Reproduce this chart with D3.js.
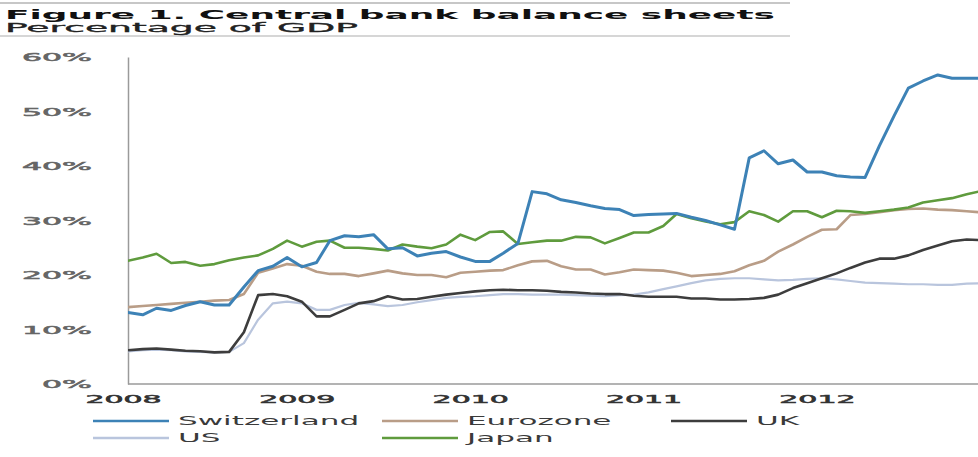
<!DOCTYPE html>
<html>
<head>
<meta charset="utf-8">
<script src="https://cdn.jsdelivr.net/npm/d3@7"></script>
<style>
  html, body { margin: 0; padding: 0; background: #fff; }
  svg { display: block; font-family: "DejaVu Sans", Verdana, sans-serif; }
</style>
</head>
<body>
<svg id="chart" width="978" height="457"></svg>
<script>
// Monthly observations, January 2008 to December 2012 (percent of GDP)
const startMonth = new Date(2008, 0, 1);
const seriesNames = ["Switzerland", "Eurozone", "UK", "US", "Japan"];
const switzerland = [13.1,12.7,13.9,13.5,14.4,15.1,14.5,14.5,17.8,20.8,21.6,23.2,21.5,22.3,26.3,27.2,27.0,27.4,24.8,25.0,23.5,24.0,24.3,23.3,22.5,22.5,24.0,25.8,35.3,34.9,33.8,33.3,32.7,32.2,32.0,30.9,31.1,31.2,31.3,30.6,30.0,29.2,28.4,41.5,42.8,40.4,41.1,38.9,38.9,38.2,38.0,37.9,43.7,49.2,54.3,55.6,56.7,56.1,56.1,56.1];
const eurozone = [14.1,14.3,14.5,14.7,14.9,15.1,15.3,15.4,16.5,20.4,21.2,22.0,21.7,20.6,20.2,20.2,19.8,20.3,20.8,20.3,20.0,20.0,19.6,20.4,20.6,20.8,20.9,21.8,22.5,22.6,21.6,21.0,21.0,20.1,20.5,21.0,20.9,20.8,20.4,19.8,20.0,20.2,20.7,21.8,22.6,24.3,25.6,27.0,28.3,28.4,31.0,31.2,31.5,31.9,32.1,32.2,32.0,31.9,31.7,31.5];
const uk = [6.2,6.4,6.5,6.3,6.1,6.0,5.8,5.9,9.5,16.3,16.5,16.1,15.1,12.4,12.4,13.6,14.8,15.2,16.1,15.5,15.6,16.0,16.4,16.7,17.0,17.2,17.3,17.2,17.2,17.1,16.9,16.8,16.6,16.5,16.5,16.2,16.0,16.0,16.0,15.7,15.7,15.5,15.5,15.6,15.8,16.4,17.6,18.5,19.4,20.3,21.3,22.3,23.0,23.0,23.6,24.6,25.4,26.2,26.5,26.4];
const us = [6.0,6.2,6.3,6.2,6.0,5.9,5.8,5.9,7.5,11.8,14.8,15.1,14.8,13.6,13.6,14.5,14.9,14.6,14.3,14.5,15.0,15.4,15.8,16.0,16.1,16.3,16.5,16.5,16.4,16.4,16.4,16.3,16.2,16.1,16.3,16.4,16.8,17.4,17.9,18.5,19.0,19.3,19.4,19.4,19.2,19.0,19.1,19.3,19.4,19.2,18.9,18.6,18.5,18.4,18.3,18.3,18.2,18.2,18.4,18.5];
const japan = [22.6,23.2,23.9,22.2,22.4,21.7,22.0,22.7,23.2,23.6,24.8,26.3,25.2,26.1,26.3,25.0,25.0,24.8,24.5,25.6,25.2,24.9,25.6,27.4,26.4,27.9,28.0,25.7,26.0,26.3,26.3,27.0,26.9,25.8,26.8,27.8,27.8,29.0,31.2,30.4,29.8,29.3,29.7,31.7,31.0,29.8,31.7,31.7,30.6,31.8,31.7,31.4,31.7,32.0,32.4,33.3,33.7,34.1,34.8,35.4];
const yTicks = [0, 10, 20, 30, 40, 50, 60];
const yearTicks = [2008, 2009, 2010, 2011, 2012];

const titleText = "Figure 1. Central bank balance sheets";
const subtitleText = "Percentage of GDP";

const svg = d3.select("#chart");
const W = 978, H = 457;
const plot = { left: 128, right: 981, top: 57, bottom: 384 };

const dateOf = i => d3.timeMonth.offset(startMonth, i);

const x = d3.scaleTime()
  .domain([startMonth, dateOf(switzerland.length - 1)])
  .range([plot.left, plot.right]);
const y = d3.scaleLinear().domain([0, 60]).range([plot.bottom, plot.top]);

// Widen text horizontally (the typeface is set very wide)
function widen(sel, factor) {
  sel.each(function () {
    const len = this.getComputedTextLength();
    d3.select(this).attr("textLength", len * factor).attr("lengthAdjust", "spacingAndGlyphs");
  });
}

// Header rules and titles
svg.append("line").attr("x1", 0).attr("x2", 790).attr("y1", 3).attr("y2", 3)
  .attr("stroke", "#b5b5b5").attr("stroke-width", 1.5);
svg.append("line").attr("x1", 0).attr("x2", 790).attr("y1", 36).attr("y2", 36)
  .attr("stroke", "#c8c8c8").attr("stroke-width", 1.5);

const title = svg.append("text").attr("x", 5).attr("y", 19)
  .attr("font-size", 12.5).attr("font-weight", "bold").attr("fill", "#111")
  .text(titleText);
widen(title, 770 / title.node().getComputedTextLength());

const subtitle = svg.append("text").attr("x", 5).attr("y", 31.5)
  .attr("font-size", 11.5).attr("fill", "#222")
  .attr("stroke", "#222").attr("stroke-width", 0.3)
  .text(subtitleText);
widen(subtitle, 353 / subtitle.node().getComputedTextLength());

// Y axis
const yAxis = svg.append("g").attr("transform", `translate(${plot.left},0)`)
  .call(d3.axisLeft(y).tickValues(yTicks).tickSize(0).tickPadding(36).tickFormat(d => d + "%"));
yAxis.select(".domain").attr("stroke", "#9a9a9a").attr("stroke-width", 1.5);
yAxis.selectAll("text")
  .attr("font-size", 10.5).attr("fill", "#666")
  .attr("stroke", "#666").attr("stroke-width", 0.5)
  .attr("font-family", "DejaVu Sans").attr("dy", "0.36em");
widen(yAxis.selectAll("text"), 3.0);

// X axis
const xAxis = svg.append("g").attr("transform", `translate(0,${plot.bottom})`)
  .call(d3.axisBottom(x).tickValues(yearTicks.map(yr => new Date(yr, 0, 1)))
    .tickSize(0).tickPadding(12).tickFormat(d3.timeFormat("%Y")));
xAxis.select(".domain").attr("d", `M${plot.left},0H${W}`)
  .attr("stroke", "#9a9a9a").attr("stroke-width", 1.5);
xAxis.selectAll("text")
  .attr("font-size", 10.5).attr("fill", "#333")
  .attr("stroke", "#333").attr("stroke-width", 0.5)
  .attr("font-family", "DejaVu Sans").attr("dx", -5);
widen(xAxis.selectAll("text"), 2.85);

// Lines
svg.append("clipPath").attr("id", "plotClip")
  .append("rect").attr("x", plot.left).attr("y", 0).attr("width", W - plot.left).attr("height", plot.bottom);

const series = [
  { name: "US", values: us, color: "#b9c5dd", width: 2.2 },
  { name: "UK", values: uk, color: "#3d3d3d", width: 2.6 },
  { name: "Eurozone", values: eurozone, color: "#b99d87", width: 2.6 },
  { name: "Japan", values: japan, color: "#5f9b3d", width: 2.6 },
  { name: "Switzerland", values: switzerland, color: "#3d82b6", width: 3 }
];

const line = d3.line().x((d, i) => x(dateOf(i))).y(d => y(d));

svg.append("g").attr("clip-path", "url(#plotClip)")
  .selectAll("path").data(series).join("path")
  .attr("d", s => line(s.values))
  .attr("fill", "none")
  .attr("stroke", s => s.color)
  .attr("stroke-width", s => s.width)
  .attr("stroke-linejoin", "round")
  .attr("stroke-linecap", "round");

// Legend: three columns, two rows, in seriesNames order
const byName = Object.fromEntries(series.map(s => [s.name, s]));
const legend = svg.append("g");
seriesNames.forEach((name, i) => {
  const col = i % 3, row = Math.floor(i / 3);
  const lx = 93 + col * 289, ly = 421 + row * 17;
  const g = legend.append("g").attr("transform", `translate(${lx},${ly})`);
  g.append("line").attr("x1", 0).attr("x2", 76).attr("y1", 0).attr("y2", 0)
    .attr("stroke", byName[name].color).attr("stroke-width", 2.4);
  const t = g.append("text").attr("x", 85).attr("y", 0).attr("dy", "0.36em")
    .attr("font-size", 11.5).attr("fill", "#3a3a3a").text(name);
  widen(t, 2.7);
});
</script>
</body>
</html>
